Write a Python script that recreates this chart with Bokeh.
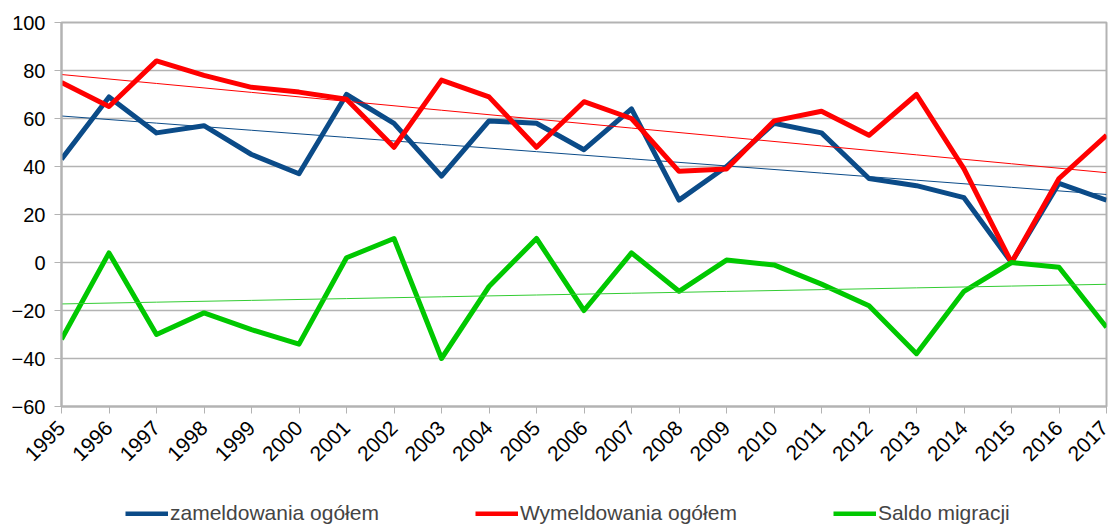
import numpy as np
from bokeh.plotting import figure
from bokeh.layouts import column
from bokeh.models import Range1d, FixedTicker, Legend, LegendItem
from bokeh.embed import file_html
from bokeh.resources import INLINE

years = list(range(1995, 2018))
zameldowania = [43, 69, 54, 57, 45, 37, 70, 58, 36, 59, 58, 47, 64, 26, 40, 58, 54, 35, 32, 27, 0, 33, 26]
wymeldowania = [75, 65, 84, 78, 73, 71, 68, 48, 76, 69, 48, 67, 60, 38, 39, 59, 63, 53, 70, 39, 0, 35, 53]
saldo = [-32, 4, -30, -21, -28, -34, 2, 10, -40, -10, 10, -20, 4, -12, 1, -1, -9, -18, -38, -12, 0, -2, -27]
y_ticks = [-60, -40, -20, 0, 20, 40, 60, 80, 100]

names = ["zameldowania ogółem", "Wymeldowania ogółem", "Saldo migracji"]
colors = ["#0b4b88", "#ff0000", "#00c800"]
series = [zameldowania, wymeldowania, saldo]

FONT = "Liberation Sans"

main = figure(frame_width=1045, frame_height=384, output_backend="svg", toolbar_location=None,
              x_range=Range1d(1995, 2017), y_range=Range1d(-60, 100),
              min_border_left=61, min_border_right=3, min_border_top=22, min_border_bottom=94)
main.background_fill_color = "white"
main.border_fill_color = "white"
main.outline_line_color = "#b3b3b3"
main.outline_line_width = 2

x = np.array(years, dtype=float)
for vals, c in zip(series, colors):
    main.line(years, vals, line_color=c, line_width=5, line_join="round")
    k, b = np.polyfit(x, np.array(vals, dtype=float), 1)
    tc = "#33cc33" if c == "#00c800" else c
    main.line(years, list(k * x + b), line_color=tc, line_width=1)

main.xaxis.ticker = FixedTicker(ticks=years)
main.yaxis.ticker = FixedTicker(ticks=y_ticks)
main.xgrid.visible = False
main.ygrid.grid_line_color = "#b3b3b3"
main.ygrid.grid_line_width = 1.5

for ax in (main.xaxis, main.yaxis):
    ax.axis_line_color = "#b3b3b3"
    ax.axis_line_width = 2
    ax.major_tick_line_color = "#b3b3b3"
    ax.major_tick_out = 7
    ax.major_tick_in = 0
    ax.minor_tick_line_color = None
    ax.major_label_text_font = FONT
    ax.major_label_text_font_size = "20px"
    ax.major_label_text_color = "black"

main.xaxis.major_label_text_font_size = "21px"
main.xaxis.major_label_orientation = np.pi / 4
main.xaxis.major_label_standoff = 11
main.yaxis.major_label_standoff = 9

# legend strip below the chart
leg = figure(width=1109, height=30, output_backend="svg", toolbar_location=None,
             x_range=Range1d(0, 1), y_range=Range1d(0, 1),
             x_axis_location=None, y_axis_location=None, min_border=0)
leg.outline_line_color = None
leg.xgrid.visible = False
leg.ygrid.visible = False
items = []
for c, n in zip(colors, names):
    # legend-only renderer: data lies outside the strip's visible range
    r = leg.line([-5, -4], [-5, -4], line_color=c, line_width=5)
    items.append(LegendItem(label=n, renderers=[r]))

legend = Legend(items=items, orientation="horizontal", location=(64, 5),
                label_text_font=FONT, label_text_font_size="21px",
                glyph_width=43, glyph_height=5, label_standoff=2, spacing=96,
                border_line_color=None, background_fill_alpha=0, padding=0, margin=0)
leg.add_layout(legend, "center")

p = column(main, leg, spacing=0)

open("out.html", "w").write(file_html(p, INLINE))
